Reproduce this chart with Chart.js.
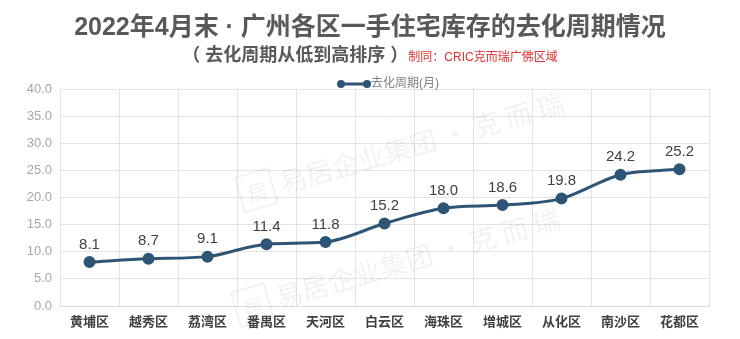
<!DOCTYPE html>
<html>
<head>
<meta charset="utf-8">
<script src="https://cdn.jsdelivr.net/npm/chart.js@4/dist/chart.umd.min.js"></script>
<style>
  html, body { margin: 0; padding: 0; background: #fff; }
  #wrap { position: relative; width: 740px; height: 339px; }
  #title { position: absolute; left: 0; top: 10px; width: 740px; text-align: center;
    font: bold 25px "Liberation Sans", "Noto Sans CJK SC", sans-serif; color: #595959; line-height: 32px; }
  #sub { position: absolute; left: 0; top: 42px; width: 740px; text-align: center;
    font: bold 18px "Liberation Sans", "Noto Sans CJK SC", sans-serif; color: #595959; line-height: 26px; }
  #sub span { font-weight: normal; font-size: 12px; color: #e03030; }
  canvas { position: absolute; left: 0; top: 0; }
</style>
</head>
<body>
<div id="wrap">
  <canvas id="c" width="740" height="339"></canvas>
  <div id="title">2022年4月末 · 广州各区一手住宅库存的去化周期情况</div>
  <div id="sub">（ 去化周期从低到高排序 ）<span>制同：CRIC克而瑞广佛区域</span></div>
</div>
<script>
const districts = ['黄埔区', '越秀区', '荔湾区', '番禺区', '天河区', '白云区', '海珠区', '增城区', '从化区', '南沙区', '花都区'];
const cycleMonths = [8.1, 8.7, 9.1, 11.4, 11.8, 15.2, 18.0, 18.6, 19.8, 24.2, 25.2];
const seriesName = '去化周期(月)';
const yMin = 0, yMax = 40, yStep = 5;
const watermarkText = '易居企业集团 · 克 而 瑞';

const LINE = '#2f5576';
const FONT = '"Liberation Sans", "Noto Sans CJK SC", sans-serif';

// faint diagonal brand watermark behind the series
const watermark = {
  id: 'watermark',
  beforeDatasetsDraw(chart) {
    const ctx = chart.ctx;
    ctx.save();
    ctx.fillStyle = 'rgba(0,0,0,0.055)';
    ctx.strokeStyle = 'rgba(0,0,0,0.055)';
    ctx.lineWidth = 2;
    ctx.textBaseline = 'middle';
    [[240, 195], [236, 310]].forEach(([x, y]) => {
      ctx.save();
      ctx.translate(x, y);
      ctx.rotate(-16 * Math.PI / 180);
      ctx.strokeRect(0, -18, 34, 36);
      ctx.font = '20px "Noto Sans CJK SC", sans-serif';
      ctx.fillText('居', 8, 2);
      ctx.font = '27px "Noto Sans CJK SC", sans-serif';
      ctx.fillText(watermarkText, 42, 0);
      ctx.restore();
    });
    ctx.restore();
  }
};

// value labels above each point
const valueLabels = {
  id: 'valueLabels',
  afterDatasetsDraw(chart) {
    const ctx = chart.ctx;
    const meta = chart.getDatasetMeta(0);
    ctx.save();
    ctx.font = '15px ' + FONT;
    ctx.fillStyle = '#404040';
    ctx.textAlign = 'center';
    ctx.textBaseline = 'bottom';
    meta.data.forEach((pt, i) => {
      ctx.fillText(cycleMonths[i].toFixed(1), pt.x, pt.y - 10);
    });
    ctx.restore();
  }
};

// legend with a line-and-markers swatch
const lineLegend = {
  id: 'lineLegend',
  afterDraw(chart) {
    const ctx = chart.ctx;
    const y = 84;
    const x0 = 341, x1 = 367;
    ctx.save();
    ctx.strokeStyle = LINE;
    ctx.fillStyle = LINE;
    ctx.lineWidth = 3;
    ctx.beginPath(); ctx.moveTo(x0, y); ctx.lineTo(x1, y); ctx.stroke();
    [x0, x1].forEach(x => { ctx.beginPath(); ctx.arc(x, y, 4, 0, Math.PI * 2); ctx.fill(); });
    ctx.fillStyle = '#7f7f7f';
    ctx.font = '12px ' + FONT;
    ctx.textAlign = 'left';
    ctx.textBaseline = 'middle';
    ctx.fillText(seriesName, x1 + 4, y);
    ctx.restore();
  }
};

new Chart(document.getElementById('c'), {
  type: 'line',
  data: {
    labels: districts,
    datasets: [{
      label: seriesName,
      data: cycleMonths,
      borderColor: LINE,
      backgroundColor: LINE,
      borderWidth: 3,
      pointRadius: 4.5,
      pointHoverRadius: 4.5,
      cubicInterpolationMode: 'monotone',
      fill: false
    }]
  },
  options: {
    responsive: false,
    animation: false,
    devicePixelRatio: 1,
    layout: { padding: { top: 89, right: 31, left: 0, bottom: 0 } },
    plugins: { legend: { display: false }, title: { display: false }, tooltip: { enabled: false } },
    scales: {
      x: {
        offset: true,
        grid: { offset: true, color: '#e3e3e3', drawTicks: false },
        border: { color: '#d9d9d9' },
        ticks: { color: '#404040', font: { family: FONT, size: 13, weight: 'bold' }, padding: 9, maxRotation: 0 },
        afterFit(s) { s.height = 33; }
      },
      y: {
        min: yMin, max: yMax,
        grid: { color: '#e3e3e3', drawTicks: false },
        border: { display: false },
        ticks: { stepSize: yStep, color: '#a6a6a6', font: { family: FONT, size: 13 }, padding: 8,
          callback: v => v.toFixed(1) },
        afterFit(s) { s.width = 60; }
      }
    }
  },
  plugins: [watermark, valueLabels, lineLegend]
});
</script>
</body>
</html>
